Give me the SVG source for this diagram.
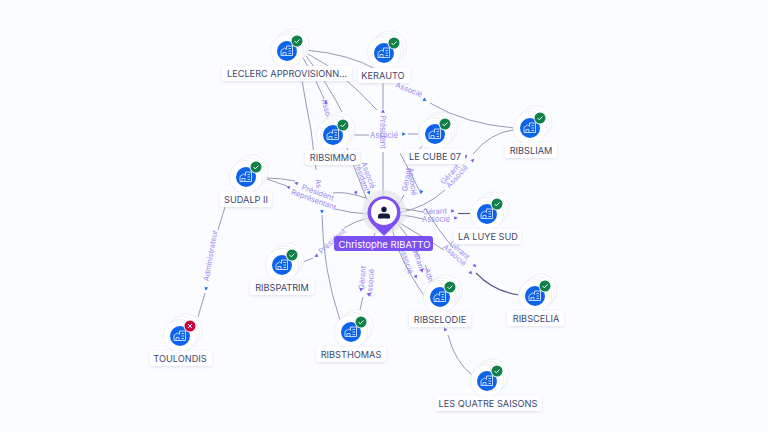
<svg xmlns="http://www.w3.org/2000/svg" width="768" height="432" viewBox="0 0 768 432">
<style>
text{font-family:Inter,"Liberation Sans",sans-serif}
.e{fill:none;stroke:#8a8fae;stroke-width:.9}
.d{fill:none;stroke:#5d6288;stroke-width:1.2}
.l{font-size:7.5px;fill:#9a88f2;text-anchor:middle}
.n{font-size:9.2px;fill:#40466c;text-anchor:middle}
.lb{fill:#fff;filter:url(#s)}
.r{fill:#fff;stroke:#e9ebf1;stroke-width:.8}
.a{fill:#7a55e8}
.b{fill:#1a6fe0}
</style>
<defs>
<filter id="s" x="-30%" y="-50%" width="160%" height="200%"><feDropShadow dx="0" dy="1" stdDeviation="1.5" flood-color="#9aa0b8" flood-opacity=".3"/></filter>
<g id="co">
<circle class="r" cx="5.500" cy="-5.500" r="16.500"/>
<circle class="r" cx="2.800" cy="-2.800" r="16.500"/>
<circle class="r" cx="0" cy="0" r="16.500"/>
<circle r="10" fill="#0d63ea"/>
<path d="M-6 4.500V-.5L-2.500-3-.5-1.600V-5H5.500V4.500ZM-4 4.500V1.500H-1V4.500M1.500-2.500H4M1.500 0H4M1.500 2.500H4" fill="none" stroke="#d5e4ff" stroke-width=".9"/>
</g>
<g id="ok"><circle cx="10" cy="-10" r="6.500" fill="#fff"/><circle cx="10" cy="-10" r="5.500" fill="#0e8048"/><path d="M7.500-10 9.300-8.200 12.500-11.500" fill="none" stroke="#fff" stroke-width="1"/></g>
<g id="ko"><circle cx="10" cy="-10" r="6.500" fill="#fff"/><circle cx="10" cy="-10" r="5.500" fill="#d3003f"/><path d="M8-12 12-8M12-12 8-8" fill="none" stroke="#fff" stroke-width="1"/></g>
<path id="t" d="M-1.800-1.800 1.800 0-1.800 1.800Z"/>
</defs>
<rect width="768" height="432" fill="#fbfcff"/>
<g id="connectors">
<path class="e" d="M306 50Q350 54 377 70"/>
<path class="e" d="M430 103Q465 124 514 128"/>
<path class="e" d="M303 58Q316 78 324 99"/>
<path class="e" d="M306 56Q328 84 342 112"/>
<path class="e" d="M347 148Q356 172 367 200"/>
<path class="e" d="M302 80Q306 105 311 130"/>
<path class="e" d="M308 54Q340 70 377 110M400 153Q412 175 421 194M425 208Q438 230 453 248"/>
<path class="d" d="M476 273Q494 292 520 295"/>
<path class="e" d="M383 81V109M383 152V198"/>
<path class="e" d="M352 135H369M408 134H420"/>
<path class="e" d="M422 146L412 160M404 195L398 205"/>
<path class="e" d="M513 130Q490 133 473 154M445 190Q425 208 398 213"/>
<path class="e" d="M400 208Q412 210 423 212M400 215Q412 216 423 219"/>
<path class="d" d="M458 213.500H472"/>
<path class="e" d="M398 222Q420 235 444 250M392 226Q396 255 425 297M398 224Q412 240 420 258M425 265L428 272"/>
<path class="e" d="M267 178Q280 178 295 181M333 193Q345 191 366 198"/>
<path class="e" d="M267 179Q275 182 287 186M335 209Q350 213 368 214"/>
<path class="e" d="M303 262 313 258M344 228Q355 221 368 218"/>
<path class="e" d="M375 233 370 250M363 297 360 310"/>
<path class="e" d="M322 215Q323 270 340 320M311 130Q314 155 316 170"/>
<path class="e" d="M225 207 218 230M205 293 198 317"/>
<path class="e" d="M473 376Q455 362 448 335"/>
<text class="l" transform="translate(408 92) rotate(22)">Associé</text>
<text class="l" transform="translate(380 132) rotate(90)">Président</text>
<text class="l" x="384" y="138">Associé</text>
<text class="l" transform="translate(325 113) rotate(75)">Associé</text>
<text class="l" transform="translate(366 176) rotate(70)">Associé</text>
<text class="l" transform="translate(359 176) rotate(70)">Président</text>
<text class="l" transform="translate(409 180) rotate(-80)">Gérant</text>
<text class="l" transform="translate(410 182) rotate(82)">Associé</text>
<text class="l" transform="translate(452 176) rotate(-48)">Gérant</text>
<text class="l" transform="translate(459 178) rotate(-48)">Associé</text>
<text class="l" transform="translate(435 214) rotate(-3)">Gérant</text>
<text class="l" transform="translate(436 222)">Associé</text>
<text class="l" transform="translate(458 252) rotate(42)">Gérant</text>
<text class="l" transform="translate(453 257) rotate(42)">Associé</text>
<text class="l" transform="translate(416 260) rotate(72)">Gérant</text>
<text class="l" transform="translate(404 261) rotate(72)">Associé</text>
<text class="l" transform="translate(427 277) rotate(72)">Adm</text>
<text class="l" transform="translate(365 278) rotate(-85)">Gérant</text>
<text class="l" transform="translate(373 283) rotate(-85)">Associé</text>
<text class="l" transform="translate(334 243) rotate(-42)">Président</text>
<text class="l" transform="translate(317 195) rotate(20)">Président</text>
<text class="l" transform="translate(313 202) rotate(20)">Représentant</text>
<text class="l" transform="translate(316 184) rotate(80)">As</text>
<text class="l" transform="translate(213 256) rotate(-80)">Administrateur</text>
<use href="#t" class="b" transform="translate(425 100) rotate(30)"/>
<use href="#t" class="a" transform="translate(326 102) rotate(-100)"/>
<use href="#t" class="a" transform="translate(383 111) rotate(-90)"/>
<use href="#t" class="b" transform="translate(404 134)"/>
<use href="#t" class="b" transform="translate(369 193) rotate(70)"/>
<use href="#t" class="a" transform="translate(356 193) rotate(70)"/>
<use href="#t" class="b" transform="translate(421 191) rotate(-120)"/>
<use href="#t" class="a" transform="translate(466 156) rotate(-45)"/>
<use href="#t" class="a" transform="translate(473 160) rotate(-45)"/>
<use href="#t" class="a" transform="translate(453 211)"/>
<use href="#t" class="a" transform="translate(456 218)"/>
<use href="#t" class="a" transform="translate(475 266) rotate(45)"/>
<use href="#t" class="a" transform="translate(471 273) rotate(45)"/>
<use href="#t" class="a" transform="translate(416 277) rotate(70)"/>
<use href="#t" class="a" transform="translate(422 271) rotate(70)"/>
<use href="#t" class="a" transform="translate(361 290) rotate(95)"/>
<use href="#t" class="a" transform="translate(369 295) rotate(95)"/>
<use href="#t" class="a" transform="translate(316 256) rotate(150)"/>
<use href="#t" class="a" transform="translate(296 183) rotate(200)"/>
<use href="#t" class="a" transform="translate(288 187) rotate(200)"/>
<use href="#t" class="b" transform="translate(322 212) rotate(85)"/>
<use href="#t" class="b" transform="translate(206 289) rotate(100)"/>
<use href="#t" class="a" transform="translate(445 329) rotate(-110)"/>
</g>
<g id="n-leclerc" transform="translate(287 51)"><use href="#co"/><use href="#ok"/><rect class="lb" x="-65" y="15" width="130" height="15" rx="3"/><text class="n" y="26">LECLERC APPROVISIONN...</text></g>
<g id="n-kerauto" transform="translate(384 53)"><use href="#co"/><use href="#ok"/><rect class="lb" x="-26" y="15" width="52" height="15" rx="3"/><text class="n" x="-1" y="26">KERAUTO</text></g>
<g id="n-ribsliam" transform="translate(530 128)"><use href="#co"/><use href="#ok"/><rect class="lb" x="-25" y="15" width="52" height="15" rx="3"/><text class="n" x="1" y="26">RIBSLIAM</text></g>
<g id="n-ribsimmo" transform="translate(333 135)"><use href="#co"/><use href="#ok"/><rect class="lb" x="-28" y="15" width="55" height="15" rx="3"/><text class="n" y="26">RIBSIMMO</text></g>
<g id="n-lecube" transform="translate(435 134)"><use href="#co"/><use href="#ok"/><rect class="lb" x="-30" y="15" width="60" height="15" rx="3"/><text class="n" y="26">LE CUBE 07</text></g>
<g id="n-sudalp" transform="translate(246 177)"><use href="#co"/><use href="#ok"/><rect class="lb" x="-26" y="15" width="52" height="15" rx="3"/><text class="n" y="26">SUDALP II</text></g>
<g id="n-luye" transform="translate(487 214)"><use href="#co"/><use href="#ok"/><rect class="lb" x="-33" y="15" width="67" height="15" rx="3"/><text class="n" x="1" y="26">LA LUYE SUD</text></g>
<g id="n-ribspatrim" transform="translate(282 265)"><use href="#co"/><use href="#ok"/><rect class="lb" x="-32" y="15" width="64" height="15" rx="3"/><text class="n" y="26">RIBSPATRIM</text></g>
<g id="n-ribselodie" transform="translate(440 297)"><use href="#co"/><use href="#ok"/><rect class="lb" x="-31" y="15" width="62" height="15" rx="3"/><text class="n" y="26">RIBSELODIE</text></g>
<g id="n-ribscelia" transform="translate(535 296)"><use href="#co"/><use href="#ok"/><rect class="lb" x="-28" y="15" width="57" height="15" rx="3"/><text class="n" x="1" y="26">RIBSCELIA</text></g>
<g id="n-ribsthomas" transform="translate(351 332)"><use href="#co"/><use href="#ok"/><rect class="lb" x="-35" y="15" width="70" height="15" rx="3"/><text class="n" y="26">RIBSTHOMAS</text></g>
<g id="n-toulondis" transform="translate(180 336)"><use href="#co"/><use href="#ko"/><rect class="lb" x="-30" y="15" width="62" height="15" rx="3"/><text class="n" y="26">TOULONDIS</text></g>
<g id="n-quatre" transform="translate(487 381)"><use href="#co"/><use href="#ok"/><rect class="lb" x="-52" y="15" width="107" height="15" rx="3"/><text class="n" x="1" y="26">LES QUATRE SAISONS</text></g>
<g id="n-christophe">
<circle cx="384" cy="212" r="22" fill="#e4e6ea" opacity=".7"/>
<path d="M384 236 372 224A16.500 16.500 0 1 1 396 224Z" fill="#7b4ff0"/>
<circle cx="384" cy="212" r="13" fill="#fff"/>
<circle cx="384" cy="209.500" r="2.700" fill="#101a3c"/>
<path d="M378 218.500V216.500Q378 213.500 381 213.500H387Q390 213.500 390 216.500V218.500Z" fill="#101a3c"/>
<rect x="334" y="236" width="99" height="15" rx="3" fill="#7b4ff0"/>
<text x="384.500" y="248" font-size="9.500" fill="#fff" text-anchor="middle">Christophe RIBATTO</text>
</g>
</svg>
